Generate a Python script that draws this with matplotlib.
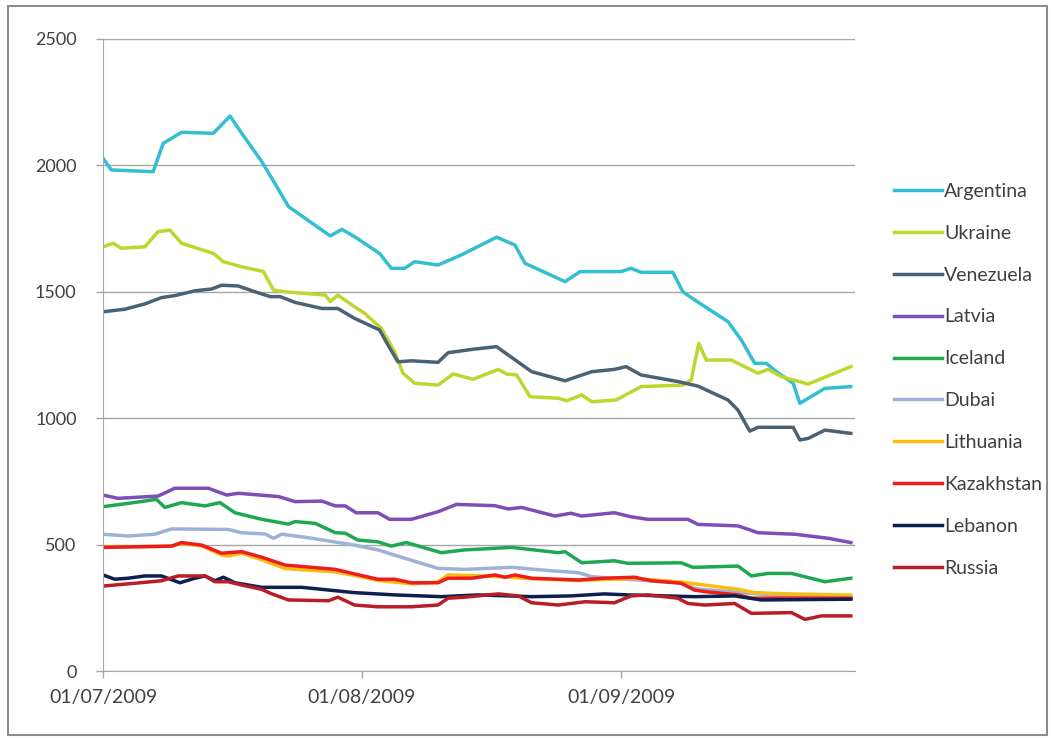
import matplotlib
matplotlib.use('Agg')
import matplotlib.pyplot as plt
import matplotlib.dates as mdates
import pandas as pd
from matplotlib.patches import Rectangle

START = pd.Timestamp('2009-07-01')
END = pd.Timestamp('2009-09-29')

# day offsets from 01/07/2009 and values
argentina_days = [0, 1, 6, 7.2, 9.4, 13.2, 15.2, 16.6, 19, 20.8, 22.2, 27.2, 28.6, 30.1, 33.1, 34.5,
                  36.1, 37.3, 40.1, 42.9, 47.1, 49.3, 50.5, 55.3, 57.1, 62, 63.2, 64.4, 68.2, 69.4,
                  70.8, 74.8, 76.4, 78, 79.4, 80.6, 82.6, 83.4, 86.4, 89.5]
argentina_vals = [2028, 1982, 1975, 2087, 2131, 2127, 2195, 2127, 2015, 1916, 1837, 1721, 1747, 1718, 1652, 1593,
                  1593, 1619, 1606, 1646, 1716, 1685, 1613, 1540, 1580, 1580, 1593, 1577, 1577, 1500,
                  1468, 1382, 1309, 1217, 1217, 1184, 1138, 1059, 1118, 1125]

ukraine_days = [0, 1.2, 2.2, 5, 6.6, 8, 9.4, 13.2, 14.4, 16.6, 19.2, 20.4, 21.8, 26.6, 27.2, 28.1,
                30.1, 31.3, 33.3, 34.9, 35.9, 37.3, 40.1, 41.9, 44.3, 47.3, 48.3, 49.5, 51.1, 54.5,
                55.5, 57.3, 58.5, 61.4, 64.4, 69.4, 70.4, 71.3, 72.2, 75.2, 78.4, 79.6, 81.2, 84.4, 89.5]
ukraine_vals = [1678, 1692, 1672, 1678, 1738, 1744, 1692, 1652, 1619, 1599, 1580, 1507, 1500, 1487, 1461, 1487,
                1441, 1415, 1356, 1263, 1178, 1138, 1131, 1175, 1154, 1193, 1175, 1171, 1085, 1079,
                1069, 1092, 1065, 1072, 1125, 1131, 1151, 1296, 1230, 1230, 1178, 1193, 1164, 1135, 1204]

venezuela_days = [0, 2.6, 5, 7, 8.6, 11, 13, 14.2, 16.2, 18.2, 20, 21.2, 23, 26.2, 28.1, 30.1,
                  33.1, 34.1, 35.3, 36.9, 40.1, 41.3, 44.1, 47.1, 48.5, 51.3, 55.3, 58.5, 61.2, 62.6,
                  64.4, 68.8, 71.2, 74.8, 76, 77.4, 78.4, 82.6, 83.4, 84.4, 86.4, 89.5]
venezuela_vals = [1421, 1431, 1452, 1477, 1485, 1504, 1511, 1526, 1523, 1500, 1481, 1481, 1458, 1434, 1434, 1395,
                  1349, 1290, 1223, 1227, 1221, 1259, 1272, 1283, 1250, 1184, 1148, 1184, 1193, 1204,
                  1171, 1145, 1127, 1072, 1032, 949, 964, 964, 914, 920, 953, 940]

latvia_days = [0, 1.8, 6.6, 8.6, 12.6, 14.8, 16.2, 21, 23, 26.2, 27.8, 29, 30.3, 32.9, 34.3, 36.9,
               40.1, 42.3, 46.9, 48.5, 50.1, 54.1, 56, 57.3, 61.2, 63.2, 65.2, 70, 71.2, 76,
               78.4, 82.8, 86.8, 89.5]
latvia_vals = [696, 683, 692, 723, 723, 696, 703, 690, 670, 672, 653, 653, 626, 626, 600, 600,
               630, 659, 654, 641, 647, 613, 624, 613, 626, 610, 600, 600, 580, 574,
               547, 541, 525, 508]

iceland_days = [0, 3, 6.4, 7.4, 9.4, 12.2, 14, 15.8, 19, 22.2, 23, 25.4, 27.8, 29, 30.5, 32.9,
                34.5, 36.3, 40.5, 43.3, 48.9, 54.5, 55.3, 57.3, 61.2, 62.8, 69.2, 70.6, 76, 77.6,
                79.6, 82.4, 86.4, 89.5]
iceland_vals = [650, 663, 679, 647, 666, 653, 666, 626, 600, 581, 591, 584, 547, 545, 518, 511,
                494, 508, 468, 479, 489, 468, 472, 428, 436, 426, 428, 410, 415, 376,
                386, 386, 353, 367]

dubai_days = [0, 3, 6.2, 8.2, 15, 16.6, 19.4, 20.4, 21.4, 24.6, 30.1, 32.9, 36.1, 40.1, 43.3,
              48.9, 53.5, 56.9, 58.5, 63, 69, 71, 80, 89.5]
dubai_vals = [541, 534, 541, 562, 560, 547, 542, 525, 541, 527, 498, 479, 446, 406, 402,
              410, 397, 389, 373, 362, 350, 325, 300, 290]

lithuania_days = [0, 8.2, 9.4, 11.8, 14.2, 15, 16.6, 19, 21.8, 25, 27.8, 30.1, 32.9, 36.9, 40.1,
                  41.3, 44.1, 48.1, 51.3, 56.9, 60, 63.6, 69.2, 72, 76, 78, 82, 89.5]
lithuania_vals = [489, 494, 505, 495, 459, 455, 466, 440, 405, 398, 392, 378, 358, 345, 352,
                  380, 378, 372, 365, 358, 362, 366, 352, 340, 323, 310, 305, 300]

kazakhstan_days = [0, 8.2, 9.4, 11.8, 14.2, 16.6, 19, 21.8, 25, 27.8, 30.1, 32.9, 34.9, 36.9, 40.1,
                   41.3, 44.1, 46.9, 48.1, 49.3, 51.3, 56.9, 60, 63.6, 65.6, 69.2, 70.8, 72, 76,
                   77.6, 89.5]
kazakhstan_vals = [489, 494, 508, 498, 466, 472, 450, 419, 410, 402, 384, 363, 363, 349, 349,
                   367, 367, 380, 371, 380, 367, 360, 367, 371, 357, 347, 320, 314, 301,
                   288, 288]

lebanon_days = [0, 1.4, 3, 5, 7, 9.2, 11, 12.2, 13.4, 14.4, 15.8, 19, 23.8, 30.1, 34.9, 40.5,
                44.9, 51.3, 56, 60, 62.8, 70.8, 75.6, 78.8, 89.5]
lebanon_vals = [380, 363, 367, 376, 376, 349, 367, 376, 357, 371, 349, 331, 331, 310, 301, 294,
                301, 294, 297, 305, 301, 294, 297, 281, 284]

russia_days = [0, 3.8, 7, 9, 10.6, 12.2, 13.4, 15, 16.6, 19, 20.2, 22.2, 27, 28.1, 30.1, 32.9,
               36.9, 40.1, 41.3, 43.3, 47.3, 49.7, 51.3, 54.5, 57.7, 61.2, 63.2, 65.2, 68.8, 70,
               72, 75.6, 77.6, 82.4, 84, 86, 89.5]
russia_vals = [336, 347, 357, 376, 376, 376, 353, 353, 340, 323, 305, 281, 278, 292, 261, 254,
               254, 261, 288, 292, 305, 297, 270, 261, 274, 270, 297, 301, 288, 267,
               261, 267, 228, 231, 204, 218, 218]

series = [
    ('Argentina', argentina_days, argentina_vals, '#33bfd1'),
    ('Ukraine', ukraine_days, ukraine_vals, '#bfd62e'),
    ('Venezuela', venezuela_days, venezuela_vals, '#4a6274'),
    ('Latvia', latvia_days, latvia_vals, '#7e4db5'),
    ('Iceland', iceland_days, iceland_vals, '#1fa752'),
    ('Dubai', dubai_days, dubai_vals, '#9db2d6'),
    ('Lithuania', lithuania_days, lithuania_vals, '#f7bd12'),
    ('Kazakhstan', kazakhstan_days, kazakhstan_vals, '#ee1d1d'),
    ('Lebanon', lebanon_days, lebanon_vals, '#0d1f4f'),
    ('Russia', russia_days, russia_vals, '#b81d28'),
]

plt.rcParams['font.family'] = ['Lato', 'DejaVu Sans']
text_col = '#404040'

fig = plt.figure(figsize=(10.51, 7.38), dpi=100)
ax = fig.add_axes([103 / 1051, 1 - 671 / 738, 752 / 1051, 632 / 738])

for name, days, vals, col in series:
    dates = START + pd.to_timedelta(days, unit='D')
    ax.plot(dates, vals, color=col, lw=2.5, label=name, solid_joinstyle='round')

ax.set_xlim(START, END)
ax.set_ylim(0, 2500)
ax.set_yticks(range(0, 2501, 500))
ax.xaxis.set_major_locator(mdates.MonthLocator())
ax.xaxis.set_major_formatter(mdates.DateFormatter('%d/%m/%Y'))

ax.grid(axis='y', color='#a6a6a6', lw=1)
ax.set_axisbelow(True)
for side in ('top', 'right'):
    ax.spines[side].set_visible(False)
for side in ('left', 'bottom'):
    ax.spines[side].set_color('#a6a6a6')
ax.tick_params(axis='both', colors='#a6a6a6', length=5, width=1, labelcolor=text_col)
ax.tick_params(axis='x', labelsize=14, pad=8)
ax.tick_params(axis='y', labelsize=13, pad=14)

ax.legend(loc='upper left', bbox_to_anchor=(886 / 1051, 1 - 175 / 738), bbox_transform=fig.transFigure,
          frameon=False, fontsize=14, handlelength=2.5, handletextpad=0.1, labelspacing=1.28,
          labelcolor=text_col, borderaxespad=0)

fig.patches.append(Rectangle((8 / 1051, 3 / 738), 1039 / 1051, 729 / 738, transform=fig.transFigure,
                             fill=False, edgecolor='#8c8c8c', lw=1.5))

fig.savefig('out.png', dpi=100, facecolor='white')
